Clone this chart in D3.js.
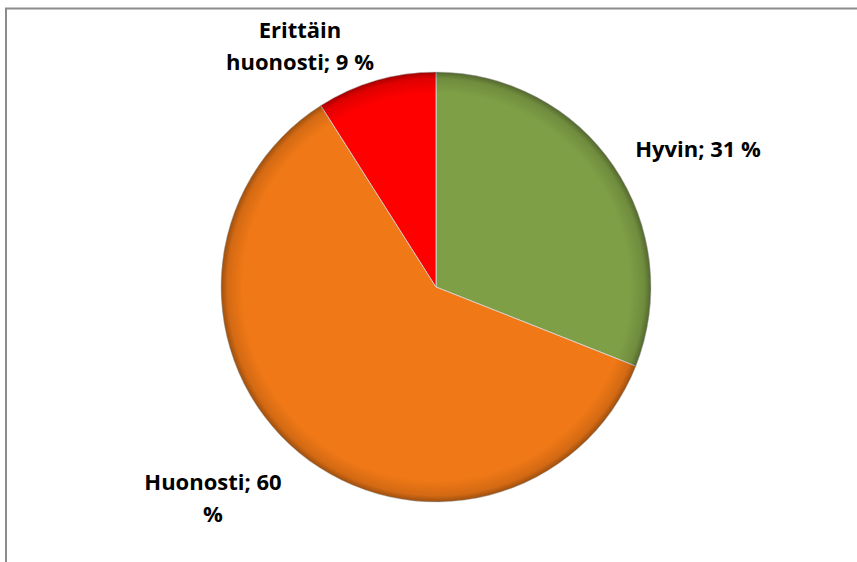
<!DOCTYPE html>
<html>
<head>
<meta charset="utf-8">
<script src="https://d3js.org/d3.v7.min.js"></script>
<style>
  body { margin: 0; background: #fff; }
  svg { display: block; }
</style>
</head>
<body>
<svg id="chart" width="857" height="562"></svg>
<script>
// data
const categories = ["Hyvin", "Huonosti", "Erittäin huonosti"];
const values = [31, 60, 9];
const colors = ["#7f9f46", "#f07816", "#fe0000"];
// label lines, as wrapped in the original
const labelLines = [["Hyvin; 31 %"], ["Huonosti; 60", "%"], ["Erittäin", "huonosti; 9 %"]];

const svg = d3.select("#chart");
const cx = 436, cy = 287, r = 215;

// frame (only top and left edges are visible)
svg.append("path")
    .attr("d", "M6,562 V8.5 H857")
    .attr("fill", "none")
    .attr("stroke", "#8c8c8c")
    .attr("stroke-width", 2);

const defs = svg.append("defs");
const rim = defs.append("radialGradient").attr("id", "rim")
    .attr("gradientUnits", "userSpaceOnUse")
    .attr("cx", 0).attr("cy", 0).attr("r", r);
rim.append("stop").attr("offset", "0.9").attr("stop-color", "#000").attr("stop-opacity", 0);
rim.append("stop").attr("offset", "0.97").attr("stop-color", "#000").attr("stop-opacity", 0.12);
rim.append("stop").attr("offset", "1").attr("stop-color", "#000").attr("stop-opacity", 0.35);

const pie = d3.pie().sort(null).value(d => d.value);
const arcs = pie(categories.map((c, i) => ({ name: c, value: values[i], color: colors[i] })));
const arc = d3.arc().innerRadius(0).outerRadius(r);

const g = svg.append("g").attr("transform", "translate(" + cx + "," + cy + ")");

g.selectAll("path.slice")
    .data(arcs)
    .enter().append("path")
    .attr("class", "slice")
    .attr("d", arc)
    .attr("fill", d => d.data.color)
    .attr("stroke", "#d9d9d9")
    .attr("stroke-width", 0.8);

// soft bevel on the outer rim
g.selectAll("path.rim")
    .data(arcs)
    .enter().append("path")
    .attr("class", "rim")
    .attr("d", arc)
    .attr("fill", "url(#rim)");

// labels
const labelPos = [[698, 157], [213, 490], [300, 38]];
const lg = svg.append("g")
    .style("font-family", "'Open Sans', sans-serif")
    .style("font-weight", "bold")
    .style("font-size", "22px")
    .attr("fill", "#000");

labelLines.forEach(function (lines, i) {
    const t = lg.append("text")
        .attr("x", labelPos[i][0])
        .attr("y", labelPos[i][1])
        .attr("text-anchor", "middle");
    lines.forEach(function (line, k) {
        t.append("tspan")
            .attr("x", labelPos[i][0])
            .attr("dy", k === 0 ? 0 : 32)
            .text(line);
    });
});
</script>
</body>
</html>
